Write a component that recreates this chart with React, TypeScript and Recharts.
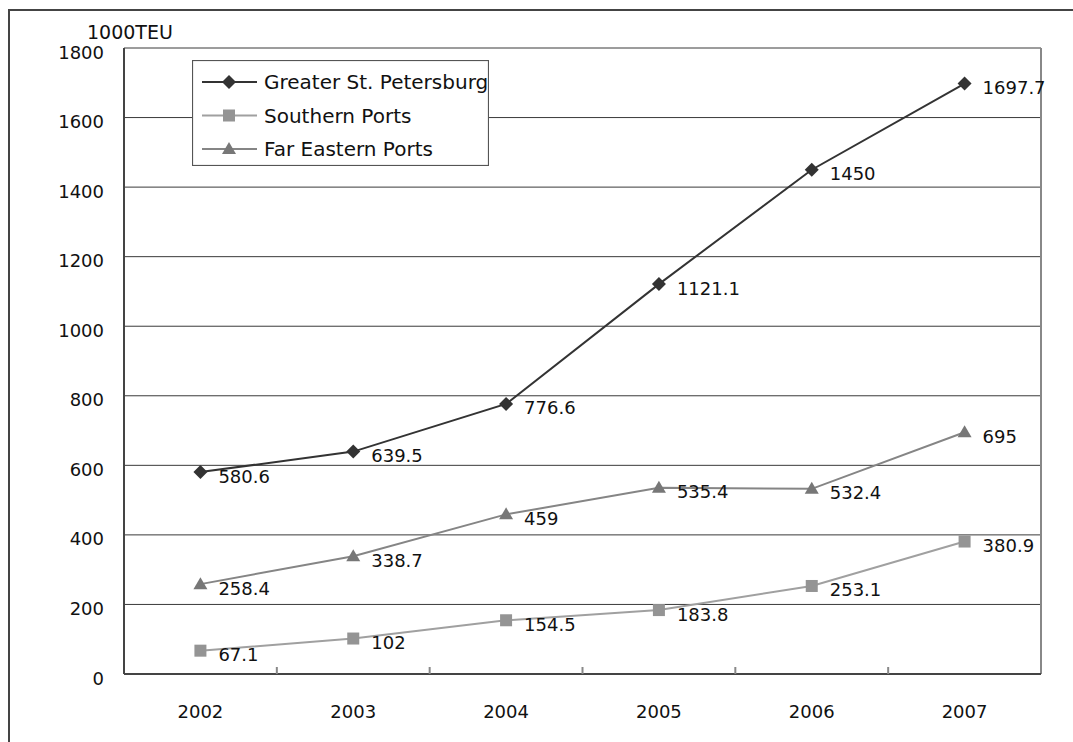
import { LineChart, Line, XAxis, YAxis, CartesianGrid, Legend, LabelList } from 'recharts';

const years = ['2002', '2003', '2004', '2005', '2006', '2007'];
const greaterStPetersburg = [580.6, 639.5, 776.6, 1121.1, 1450, 1697.7];
const southernPorts = [67.1, 102, 154.5, 183.8, 253.1, 380.9];
const farEasternPorts = [258.4, 338.7, 459, 535.4, 532.4, 695];
const yTicks = [0, 200, 400, 600, 800, 1000, 1200, 1400, 1600, 1800];

const FONT = '"DejaVu Sans", sans-serif';
const TEXT = '#111';
const PLOT_W = 1073 - 124 - 32;
const STEP = PLOT_W / years.length;

const series = [
  { key: 'greater', name: 'Greater St. Petersburg', line: '#333333', marker: '#333333', shape: 'diamond' },
  { key: 'southern', name: 'Southern Ports', line: '#a0a0a0', marker: '#949494', shape: 'square' },
  { key: 'farEast', name: 'Far Eastern Ports', line: '#858585', marker: '#777777', shape: 'triangle' },
];

const data = years.map((year, i) => ({
  year,
  greater: greaterStPetersburg[i],
  southern: southernPorts[i],
  farEast: farEasternPorts[i],
}));

function marker(shape: string, cx: number, cy: number, fill: string, key?: string) {
  if (cx == null || cy == null) return <g key={key} />;
  if (shape === 'diamond') {
    return (
      <polygon key={key} points={`${cx},${cy - 7} ${cx + 7},${cy} ${cx},${cy + 7} ${cx - 7},${cy}`} fill={fill} />
    );
  }
  if (shape === 'square') {
    return <rect key={key} x={cx - 6} y={cy - 6} width={12} height={12} fill={fill} />;
  }
  return <polygon key={key} points={`${cx},${cy - 7} ${cx + 7},${cy + 5} ${cx - 7},${cy + 5}`} fill={fill} />;
}

const XTick = (props: any) => {
  const { x, y, payload, index } = props;
  return (
    <g>
      <text x={x} y={y + 44} textAnchor="middle" fontSize={18} fontFamily={FONT} fill={TEXT}>
        {payload.value}
      </text>
      {index < years.length - 1 && (
        <line x1={x + STEP / 2} x2={x + STEP / 2} y1={y} y2={y - 7} stroke="#888" strokeWidth={2} />
      )}
    </g>
  );
};

const YTick = (props: any) => {
  const { x, y, payload } = props;
  return (
    <text x={x} y={y + 10.5} textAnchor="end" fontSize={18} fontFamily={FONT} fill={TEXT}>
      {payload.value}
    </text>
  );
};

const ValueLabel = (props: any) => {
  const { x, y, value } = props;
  return (
    <text x={x + 18} y={y + 10.5} fontSize={18} fontFamily={FONT} fill={TEXT}>
      {value}
    </text>
  );
};

const LegendBox = () => (
  <svg width={297} height={106} style={{ display: 'block' }}>
    <rect x={0.5} y={0.5} width={296} height={105} fill="#fff" stroke="#555" strokeWidth={1.2} />
    {series.map((s, i) => {
      const cy = 22 + i * 33.5;
      return (
        <g key={s.key}>
          <line x1={10} x2={65} y1={cy} y2={cy} stroke={s.line} strokeWidth={2} />
          {marker(s.shape, 37, cy, s.marker)}
          <text x={72} y={cy + 7.3} fontSize={20} fontFamily={FONT} fill={TEXT}>
            {s.name}
          </text>
        </g>
      );
    })}
  </svg>
);

export default function App() {
  return (
    <div
      style={{
        position: 'fixed',
        left: 0,
        top: 0,
        width: 1073,
        height: 742,
        overflow: 'hidden',
        background: '#fff',
      }}
    >
      <div
        style={{
          position: 'absolute',
          left: 8,
          top: 9,
          width: 1100,
          height: 800,
          borderTop: '2px solid #444',
          borderLeft: '2px solid #444',
        }}
      />
      <svg width={200} height={50} style={{ position: 'absolute', left: 0, top: 0 }}>
        <text x={87} y={39} fontSize={19} fontFamily={FONT} fill={TEXT}>
          1000TEU
        </text>
      </svg>
      <div style={{ position: 'absolute', left: 0, top: 0 }}>
        <LineChart width={1073} height={742} data={data} margin={{ top: 48, right: 32, bottom: 18, left: 0 }}>
          <CartesianGrid vertical={false} stroke="#3a3a3a" strokeWidth={1} />
          <CartesianGrid
            horizontal={false}
            stroke="#888"
            strokeWidth={2}
            verticalCoordinatesGenerator={({ offset }: any) => [offset.left + offset.width]}
          />
          <XAxis
            dataKey="year"
            height={50}
            padding={{ left: STEP / 2, right: STEP / 2 }}
            tickLine={false}
            tickSize={0}
            tickMargin={0}
            axisLine={{ stroke: '#444', strokeWidth: 2 }}
            tick={<XTick />}
            interval={0}
          />
          <YAxis
            width={124}
            domain={[0, 1800]}
            ticks={yTicks}
            tickLine={false}
            tickSize={0}
            tickMargin={20}
            axisLine={{ stroke: '#444', strokeWidth: 2 }}
            tick={<YTick />}
            interval={0}
          />
          <Legend
            layout="horizontal"
            verticalAlign="middle"
            align="center"
            content={() => <LegendBox />}
            wrapperStyle={{ left: 192, top: 60, width: 297, height: 106 }}
          />
          {series.map((s) => (
            <Line
              key={s.key}
              dataKey={s.key}
              name={s.name}
              type="linear"
              stroke={s.line}
              strokeWidth={2}
              isAnimationActive={false}
              dot={(p: any) => marker(s.shape, p.cx, p.cy, s.marker, `${s.key}-${p.index}`)}
              activeDot={false}
            >
              <LabelList dataKey={s.key} content={<ValueLabel />} />
            </Line>
          ))}
        </LineChart>
      </div>
    </div>
  );
}
